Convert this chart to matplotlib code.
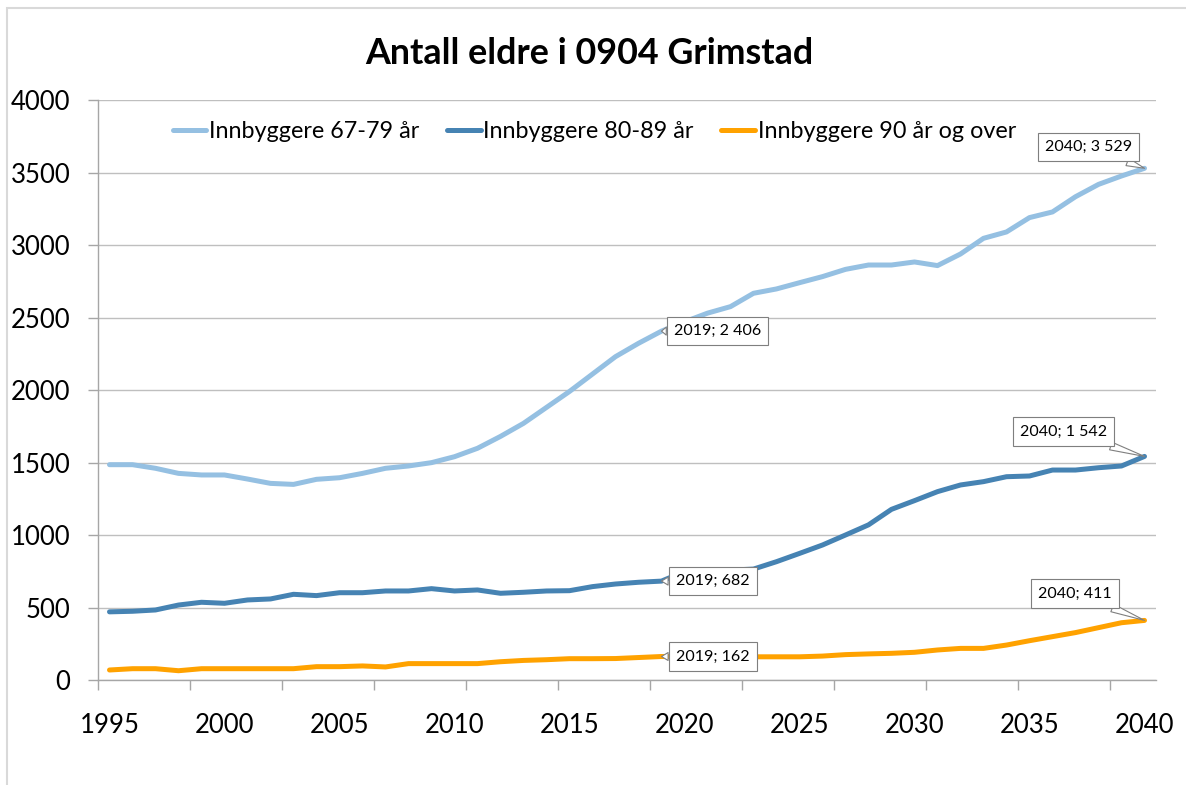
import matplotlib
matplotlib.use('Agg')
import matplotlib.pyplot as plt
from matplotlib.patches import Rectangle
from matplotlib.ticker import FixedLocator

plt.rcParams['font.family'] = ['Lato', 'DejaVu Sans']

# data (1995 - 2040)
years = list(range(1995, 2041))
age67_79 = [1485, 1485, 1460, 1425, 1414, 1414, 1386, 1356, 1349, 1384,
            1395, 1425, 1460, 1476, 1499, 1540, 1598, 1680, 1770, 1880,
            1990, 2110, 2230, 2322, 2406, 2470, 2530, 2575, 2667, 2697,
            2740, 2782, 2832, 2862, 2862, 2883, 2858, 2938, 3046, 3090,
            3189, 3228, 3333, 3418, 3476, 3529]
age80_89 = [470, 474, 483, 517, 536, 529, 552, 559, 591, 582,
            602, 602, 614, 614, 630, 614, 621, 598, 605, 614,
            616, 644, 662, 674, 682, 748, 753, 758, 765, 816,
            873, 931, 1000, 1070, 1177, 1237, 1299, 1345, 1368, 1402,
            1407, 1448, 1448, 1464, 1476, 1542]
age90 = [69, 78, 78, 64, 78, 78, 78, 78, 78, 92,
         92, 97, 90, 113, 113, 113, 113, 126, 135, 140,
         147, 147, 148, 155, 162, 160, 160, 160, 160, 160,
         160, 165, 175, 180, 184, 191, 207, 218, 218, 241,
         271, 299, 327, 361, 395, 411]

series_names = ['Innbyggere 67-79 år', 'Innbyggere 80-89 år', 'Innbyggere 90 år og over']
series_colors = ['#95c0e2', '#4683b3', '#ffa200']
label_years = list(range(1995, 2041, 5))

# which points get a data label, and where the box sits (offset in pixels)
callouts = [
    (0, 2019, (56, 0)), (0, 2040, (-56, 21)),
    (1, 2019, (51, 0)), (1, 2040, (-81, 25)),
    (2, 2019, (51, 0)), (2, 2040, (-70, 27)),
]

W, H = 1186, 785
fig = plt.figure(figsize=(W / 100, H / 100), dpi=100)
ax = fig.add_axes([98 / W, 105 / H, 1058 / W, 580 / H])

all_series = [age67_79, age80_89, age90]
for vals, name, col in zip(all_series, series_names, series_colors):
    ax.plot(years, vals, color=col, lw=3.6, solid_capstyle='round',
            solid_joinstyle='round', label=name)

ax.set_xlim(1994.5, 2040.5)
ax.set_ylim(0, 4000)
ax.set_yticks(range(0, 4001, 500))
ax.set_xticks(label_years)
# tick marks sit between categories, every 4th year
ax.xaxis.set_minor_locator(FixedLocator([1994.5 + 4 * k for k in range(12)]))

ax.tick_params(axis='x', which='major', length=0, pad=24, labelsize=18.5)
ax.tick_params(axis='x', which='minor', length=7, width=1, color='#a6a6a6')
ax.tick_params(axis='y', length=7, width=1, color='#a6a6a6', pad=13, labelsize=18.5)

ax.grid(axis='y', color='#bfbfbf', lw=1)
ax.set_axisbelow(True)
for s in ['top', 'right']:
    ax.spines[s].set_visible(False)
for s in ['left', 'bottom']:
    ax.spines[s].set_color('#a6a6a6')
    ax.spines[s].set_linewidth(1)

ax.legend(loc='center', bbox_to_anchor=(0.469, 0.945), ncol=3, frameon=False,
          fontsize=16.8, handlelength=1.45, handletextpad=0.1, columnspacing=1.2)

# data labels with callouts
for idx, yr, off in callouts:
    val = all_series[idx][years.index(yr)]
    txt = '%d; %s' % (yr, format(val, ',').replace(',', ' '))
    ax.annotate(txt, xy=(yr, val), xytext=off, textcoords='offset pixels',
                ha='center', va='center', fontsize=11.5,
                bbox=dict(boxstyle='square,pad=0.45', fc='white', ec='#7f7f7f', lw=0.8),
                arrowprops=dict(arrowstyle='wedge,tail_width=0.5', fc='white',
                                ec='#7f7f7f', lw=0.8, shrinkA=0, shrinkB=0))

fig.text(0.497, 0.932, 'Antall eldre i 0904 Grimstad', ha='center', va='center',
         fontsize=25.8, fontweight='bold')

# light chart-area border
fig.patches.append(Rectangle((7 / W, -0.05), 1.1, (H - 8) / H + 0.05,
                             transform=fig.transFigure, fill=False,
                             ec='#d9d9d9', lw=1.5))

fig.savefig('out.png', dpi=100)
